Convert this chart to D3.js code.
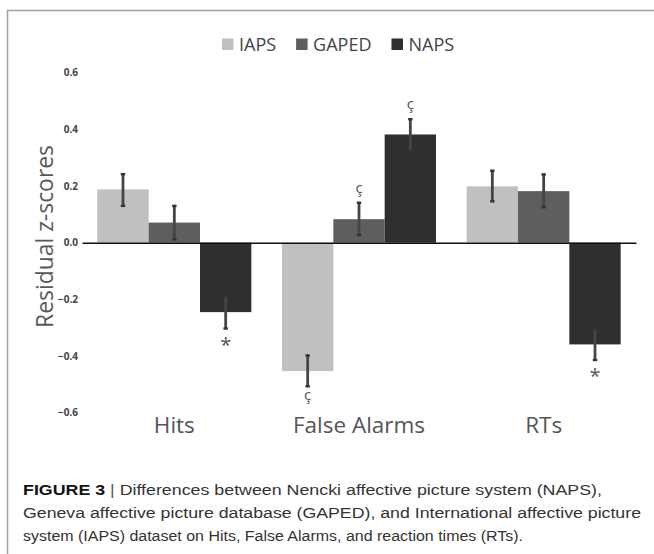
<!DOCTYPE html>
<html>
<head>
<meta charset="utf-8">
<script src="https://cdn.jsdelivr.net/npm/d3@7"></script>
<style>
  html, body { margin: 0; padding: 0; background: #fff; }
  svg { display: block; }
</style>
</head>
<body>
<svg id="chart" width="654" height="554"></svg>
<script>
// ---- data ----
const categories = ["Hits", "False Alarms", "RTs"];
const seriesNames = ["IAPS", "GAPED", "NAPS"];
const seriesColors = ["#c0c0c0", "#5e5e5e", "#2e302f"];
const iapsValues  = [0.188, -0.453, 0.199];
const gapedValues = [0.071, 0.083, 0.182];
const napsValues  = [-0.245, 0.382, -0.359];
const iapsErrLow   = [0.130, -0.507, 0.146];
const iapsErrHigh  = [0.242, -0.398, 0.254];
const gapedErrLow  = [0.012, 0.027, 0.125];
const gapedErrHigh = [0.130, 0.141, 0.241];
const napsErrLow   = [-0.303, 0.325, -0.414];
const napsErrHigh  = [-0.190, 0.436, -0.305];
const yTicks = [0.6, 0.4, 0.2, 0.0, -0.2, -0.4, -0.6];
const yTitle = "Residual z-scores";
const annotCategory = ["Hits", "False Alarms", "False Alarms", "False Alarms", "RTs"];
const annotSeries   = ["NAPS", "IAPS", "GAPED", "NAPS", "NAPS"];
const annotSymbol   = ["*", "ç", "ç", "ç", "*"];
const captionBold = "FIGURE 3";
const captionLines = [
  "Differences between Nencki affective picture system (NAPS),",
  "Geneva affective picture database (GAPED), and International affective picture",
  "system (IAPS) dataset on Hits, False Alarms, and reaction times (RTs)."
];

const valuesBySeries = [iapsValues, gapedValues, napsValues];
const lowBySeries = [iapsErrLow, gapedErrLow, napsErrLow];
const highBySeries = [iapsErrHigh, gapedErrHigh, napsErrHigh];
const rows = [];
categories.forEach((c, ci) => {
  seriesNames.forEach((s, si) => {
    rows.push({cat: c, series: s, si, value: valuesBySeries[si][ci],
      lo: lowBySeries[si][ci], hi: highBySeries[si][ci]});
  });
});

// ---- layout ----
const svg = d3.select("#chart");
const x0 = d3.scaleBand().domain(categories).range([82, 636]).paddingInner(0.166).paddingOuter(0.083);
const x1 = d3.scaleBand().domain(seriesNames).range([0, x0.bandwidth()]);
const y = d3.scaleLinear().domain([-0.6, 0.6]).range([412.7, 72.7]);
const color = d3.scaleOrdinal().domain(seriesNames).range(seriesColors);

// frame border (figure panel)
svg.append("path")
  .attr("d", "M7.5,554 L7.5,10.5 L654,10.5")
  .attr("fill", "none").attr("stroke", "#a0a0a0").attr("stroke-width", 1.5);

// legend
const legend = svg.append("g").attr("font-family", "'Open Sans', sans-serif")
  .attr("font-size", 18).attr("fill", "#444");
let lx = 222;
seriesNames.forEach((s) => {
  legend.append("rect").attr("x", lx).attr("y", 38.5).attr("width", 11.5).attr("height", 11.5)
    .attr("fill", color(s));
  const t = legend.append("text").attr("x", lx + 17).attr("y", 51).text(s);
  const w = t.node().getComputedTextLength();
  lx = lx + 17 + w + 20;
});

// y axis tick labels
const yAxis = d3.axisLeft(y).tickValues(yTicks).tickSize(0).tickPadding(0).tickFormat(d3.format(".1f"));
const yg = svg.append("g").attr("transform", "translate(78,0)").call(yAxis);
yg.select(".domain").remove();
yg.selectAll("text").attr("font-family", "'Open Sans', sans-serif").attr("font-weight", "bold")
  .attr("font-size", 10).attr("fill", "#444");

// y title
svg.append("text")
  .attr("transform", "translate(53,236.5) rotate(-90)")
  .attr("text-anchor", "middle")
  .attr("font-family", "'Open Sans', sans-serif")
  .attr("font-size", 24)
  .attr("fill", "#595959")
  .attr("textLength", 183)
  .attr("lengthAdjust", "spacingAndGlyphs")
  .text(yTitle);

// bars
svg.append("g").selectAll("rect").data(rows).join("rect")
  .attr("x", d => x0(d.cat) + x1(d.series))
  .attr("width", x1.bandwidth())
  .attr("y", d => y(Math.max(0, d.value)))
  .attr("height", d => Math.abs(y(d.value) - y(0)))
  .attr("fill", d => color(d.series));

// zero axis line
const xAxis = d3.axisBottom(x0).tickSize(0).tickFormat("");
const xg = svg.append("g").attr("transform", `translate(0,${y(0)})`).call(xAxis);
xg.select(".domain").attr("stroke", "#111").attr("stroke-width", 1.5);

// error bars
const eb = svg.append("g").attr("stroke", "#454545");
rows.forEach(d => {
  const cx = x0(d.cat) + x1(d.series) + x1.bandwidth() / 2;
  eb.append("line").attr("x1", cx).attr("x2", cx).attr("y1", y(d.hi)).attr("y2", y(d.lo))
    .attr("stroke-width", 2.8);
  [d.hi, d.lo].forEach(v => {
    eb.append("line").attr("x1", cx - 2.2).attr("x2", cx + 2.2).attr("y1", y(v)).attr("y2", y(v))
      .attr("stroke-width", 2.4).attr("stroke", "#333");
  });
});

// category labels
svg.append("g").selectAll("text").data(categories).join("text")
  .attr("x", d => x0(d) + x0.bandwidth() / 2)
  .attr("y", 433)
  .attr("text-anchor", "middle")
  .attr("font-family", "'Open Sans', sans-serif")
  .attr("font-size", 22.5)
  .attr("fill", "#555")
  .text(d => d);

// significance annotations
annotCategory.forEach((c, i) => {
  const row = rows.find(r => r.cat === c && r.series === annotSeries[i]);
  const cx = x0(c) + x1(row.series) + x1.bandwidth() / 2;
  const isStar = annotSymbol[i] === "*";
  let ty;
  if (row.value >= 0) ty = y(row.hi) - 10;
  else ty = y(row.lo) + (isStar ? 23 : 14);
  svg.append("text")
    .attr("x", cx).attr("y", ty)
    .attr("text-anchor", "middle")
    .attr("font-family", "'Open Sans', sans-serif")
    .attr("font-size", isStar ? 20 : 15)
    .attr("fill", "#555")
    .text(annotSymbol[i]);
});

// caption
const cap = svg.append("g").attr("font-family", "'Liberation Sans', Arial, sans-serif")
  .attr("font-size", 15.5).attr("fill", "#333");
const capTargets = [602, 641, 523];
const capY = [495, 518, 540.5];
captionLines.forEach((line, i) => {
  const t = cap.append("text").attr("x", 23).attr("y", capY[i]);
  if (i === 0) {
    t.append("tspan").attr("font-weight", "bold").attr("fill", "#111").text(captionBold);
    t.append("tspan").attr("fill", "#555").text("  |  ");
    t.append("tspan").text(line);
  } else {
    t.text(line);
  }
  t.attr("textLength", capTargets[i] - 23).attr("lengthAdjust", "spacingAndGlyphs");
});
</script>
</body>
</html>
